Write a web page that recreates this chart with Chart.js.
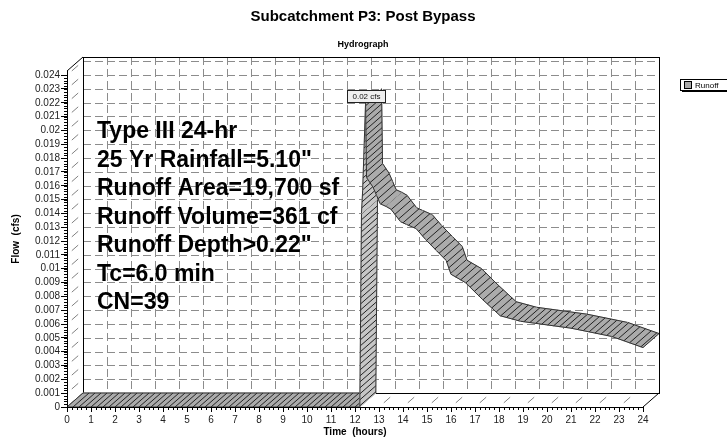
<!DOCTYPE html>
<html>
<head>
<meta charset="utf-8">
<title>Subcatchment P3: Post Bypass</title>
<script src="https://cdn.jsdelivr.net/npm/chart.js@4.4.0/dist/chart.umd.min.js"></script>
<style>
html, body { margin: 0; padding: 0; background: #fff; }
canvas { display: block; }
</style>
</head>
<body>
<canvas id="hydroChart" width="727" height="438"></canvas>
<script>
// hydrograph ordinates: time (hours) and runoff (cfs)
var hours  = [0, 12.20, 12.27, 12.32, 12.44, 12.48, 12.75, 12.90, 13.05, 13.30, 13.50, 13.90, 14.15, 14.55, 14.95, 15.40, 15.80, 16.00, 16.60, 17.30, 18.05, 18.90, 21.00, 22.70, 24.00];
var runoff = [0, 0, 0.0140, 0.0157, 0.0220, 0.0166, 0.0159, 0.0153, 0.0147, 0.0145, 0.0143, 0.0134, 0.0132, 0.0129, 0.0121, 0.0113, 0.0106, 0.0096, 0.0090, 0.0078, 0.0066, 0.0062, 0.0057, 0.0051, 0.0043];

var xTicks = [0, 1, 2, 3, 4, 5, 6, 7, 8, 9, 10, 11, 12, 13, 14, 15, 16, 17, 18, 19, 20, 21, 22, 23, 24];
var yTicks = ['0', '0.001', '0.002', '0.003', '0.004', '0.005', '0.006', '0.007', '0.008', '0.009', '0.01', '0.011', '0.012',
              '0.013', '0.014', '0.015', '0.016', '0.017', '0.018', '0.019', '0.02', '0.021', '0.022', '0.023', '0.024'];
var yMax = 0.0243;

var seriesName = 'Runoff';
var notes = ['Type III 24-hr', '25 Yr Rainfall=5.10"', 'Runoff Area=19,700 sf', 'Runoff Volume=361 cf',
             'Runoff Depth>0.22"', 'Tc=6.0 min', 'CN=39'];

var FONT = '"Liberation Sans", Arial, Helvetica, sans-serif';
var depth = { x: 16, y: -14 };   // shift from the front plane to the back wall
var faceTop = '#ababab', faceUnder = '#c6c6c6';

function seg(ctx, x1, y1, x2, y2) {
    ctx.beginPath();
    ctx.moveTo(x1, y1);
    ctx.lineTo(x2, y2);
    ctx.stroke();
}

var hydro3d = {
    id: 'hydro3d',
    beforeDatasetsDraw: function(chart) {
        var ctx = chart.ctx, a = chart.chartArea;
        var xs = chart.scales.x, ys = chart.scales.y;
        var bl = a.left + depth.x, br = a.right + depth.x;
        var bt = a.top + depth.y, bb = a.bottom + depth.y;
        ctx.save();
        ctx.lineWidth = 1;

        // dashed grid on the back wall
        ctx.strokeStyle = '#8c8c8c';
        ctx.setLineDash([8, 4]);
        xTicks.forEach(function(h, i) {
            if (i === 0 || i === xTicks.length - 1) return;
            var px = Math.round(xs.getPixelForValue(h) + depth.x) + 0.5;
            seg(ctx, px, bt, px, bb);
        });
        yTicks.forEach(function(t, i) {
            if (i === 0) return;
            var py = Math.round(ys.getPixelForValue(parseFloat(t)) + depth.y) + 0.5;
            seg(ctx, bl, py, br, py);
        });
        ctx.setLineDash([]);

        // short depth marks on the floor and the side wall
        ctx.strokeStyle = '#808080';
        xTicks.forEach(function(h, i) {
            if (i === 0 || i === xTicks.length - 1) return;
            var px = xs.getPixelForValue(h);
            seg(ctx, px + depth.x * 0.3, a.bottom + depth.y * 0.3, px + depth.x * 0.7, a.bottom + depth.y * 0.7);
        });
        yTicks.forEach(function(t, i) {
            if (i === 0) return;
            var py = ys.getPixelForValue(parseFloat(t));
            seg(ctx, a.left + depth.x * 0.3, py + depth.y * 0.3, a.left + depth.x * 0.7, py + depth.y * 0.7);
        });

        // box edges
        ctx.strokeStyle = '#000';
        ctx.strokeRect(Math.round(bl) + 0.5, Math.round(bt) + 0.5, Math.round(br - bl), Math.round(bb - bt));
        seg(ctx, a.left, a.top, bl, bt);
        seg(ctx, a.left, a.bottom, bl, bb);
        seg(ctx, a.right, a.bottom, br, bb);
        ctx.restore();
    },
    afterDatasetsDraw: function(chart) {
        var ctx = chart.ctx, a = chart.chartArea;
        var xs = chart.scales.x, ys = chart.scales.y;
        var pts = chart.getDatasetMeta(0).data;
        ctx.save();
        ctx.lineWidth = 1;

        // ribbon: every segment extruded back to the wall, painted left to right
        var step = 6, carry = 0;
        for (var i = 0; i < pts.length - 1; i++) {
            var p0 = pts[i], p1 = pts[i + 1];
            var dx = p1.x - p0.x, dy = p1.y - p0.y;
            var cross = dx * depth.y - dy * depth.x;
            ctx.fillStyle = cross < 0 ? faceTop : faceUnder;
            ctx.strokeStyle = ctx.fillStyle;
            ctx.beginPath();
            ctx.moveTo(p0.x, p0.y);
            ctx.lineTo(p1.x, p1.y);
            ctx.lineTo(p1.x + depth.x, p1.y + depth.y);
            ctx.lineTo(p0.x + depth.x, p0.y + depth.y);
            ctx.closePath();
            ctx.fill();
            ctx.stroke();

            var len = Math.sqrt(dx * dx + dy * dy);
            ctx.strokeStyle = '#222';
            var d = step - carry;
            while (d < len) {
                var t = d / len;
                var hx = p0.x + dx * t, hy = p0.y + dy * t;
                seg(ctx, hx, hy, hx + depth.x, hy + depth.y);
                d += step;
            }
            carry = len - (d - step);

            ctx.strokeStyle = '#333';
            seg(ctx, p0.x, p0.y, p1.x, p1.y);
            seg(ctx, p0.x + depth.x, p0.y + depth.y, p1.x + depth.x, p1.y + depth.y);
        }
        var first = pts[0], last = pts[pts.length - 1];
        seg(ctx, first.x, first.y, first.x + depth.x, first.y + depth.y);
        seg(ctx, last.x, last.y, last.x + depth.x, last.y + depth.y);

        // front axes with minor ticks
        ctx.strokeStyle = '#000';
        seg(ctx, a.left + 0.5, a.top, a.left + 0.5, a.bottom);
        seg(ctx, a.left, a.bottom + 0.5, a.right, a.bottom + 0.5);
        for (var k = 0; k <= 120; k++) {
            var my = Math.round(ys.getPixelForValue(k * 0.0002)) + 0.5;
            seg(ctx, a.left - 3, my, a.left, my);
            var mx = Math.round(xs.getPixelForValue(k * 0.2)) + 0.5;
            seg(ctx, mx, a.bottom, mx, a.bottom + 3);
        }

        // peak flow tag
        var pk = 0;
        runoff.forEach(function(v, j) { if (v > runoff[pk]) pk = j; });
        var tag = runoff[pk].toFixed(2) + ' cfs';
        ctx.font = '8px ' + FONT;
        var w = Math.round(ctx.measureText(tag).width) + 10, h = 12;
        var bx = Math.round(pts[pk].x - w / 2) + 0.5, by = Math.round(pts[pk].y - h - 1) + 0.5;
        ctx.fillStyle = '#efefef';
        ctx.fillRect(bx, by, w, h);
        ctx.strokeStyle = '#222';
        ctx.strokeRect(bx, by, w, h);
        ctx.fillStyle = '#111';
        ctx.textAlign = 'center';
        ctx.textBaseline = 'middle';
        ctx.fillText(tag, bx + w / 2, by + h / 2 + 0.5);
        ctx.restore();
    },
    afterDraw: function(chart) {
        var ctx = chart.ctx;
        ctx.save();
        ctx.fillStyle = '#000';
        ctx.textAlign = 'center';
        ctx.textBaseline = 'middle';
        ctx.font = 'bold 15px ' + FONT;
        ctx.fillText('Subcatchment P3: Post Bypass', 363, 17);
        ctx.font = 'bold 9px ' + FONT;
        ctx.fillText('Hydrograph', 363, 45);

        ctx.textAlign = 'left';
        ctx.font = 'bold 23px ' + FONT;
        notes.forEach(function(line, i) {
            ctx.fillText(line, 97, 132 + i * 28.5);
        });

        // legend
        ctx.fillStyle = '#000';
        ctx.fillRect(682, 81, 50, 11);
        ctx.fillStyle = '#fff';
        ctx.fillRect(680, 79, 50, 11);
        ctx.strokeStyle = '#000';
        ctx.lineWidth = 1;
        ctx.strokeRect(680.5, 79.5, 50, 11);
        ctx.fillStyle = faceTop;
        ctx.fillRect(684, 81, 7, 7);
        ctx.strokeRect(684.5, 81.5, 7, 7);
        ctx.fillStyle = '#000';
        ctx.font = '8px ' + FONT;
        ctx.fillText(seriesName, 695, 85.5);
        ctx.restore();
    }
};

var points = hours.map(function(h, i) { return { x: h, y: runoff[i] }; });

var ctx = document.getElementById('hydroChart').getContext('2d');
var hydroChart = new Chart(ctx, {
    type: 'line',
    data: {
        datasets: [{
            label: seriesName,
            data: points,
            showLine: false,
            pointRadius: 0,
            borderWidth: 0
        }]
    },
    options: {
        responsive: false,
        animation: false,
        devicePixelRatio: 1,
        events: [],
        layout: { padding: { top: 71, right: 84, left: 0, bottom: 0 } },
        plugins: {
            legend: { display: false },
            tooltip: { enabled: false }
        },
        scales: {
            x: {
                type: 'linear',
                min: 0,
                max: 24,
                afterBuildTicks: function(scale) {
                    scale.ticks = xTicks.map(function(v) { return { value: v }; });
                },
                afterFit: function(scale) { scale.height = 31; },
                grid: { drawOnChartArea: false, tickLength: 5, tickColor: '#000', color: '#000' },
                border: { display: true, color: '#000' },
                ticks: {
                    autoSkip: false,
                    maxRotation: 0,
                    padding: 2,
                    color: '#222',
                    font: { family: FONT, size: 10 },
                    callback: function(v, i) { return String(xTicks[i]); }
                },
                title: {
                    display: true,
                    text: 'Time  (hours)',
                    color: '#000',
                    font: { family: FONT, size: 10, weight: 'bold' },
                    padding: { top: 0, bottom: 0 }
                }
            },
            y: {
                type: 'linear',
                min: 0,
                max: yMax,
                afterBuildTicks: function(scale) {
                    scale.ticks = yTicks.map(function(v) { return { value: parseFloat(v) }; });
                },
                afterFit: function(scale) { scale.width = 67; },
                grid: { drawOnChartArea: false, tickLength: 6, tickColor: '#000', color: '#000' },
                border: { display: true, color: '#000' },
                ticks: {
                    autoSkip: false,
                    padding: 1,
                    color: '#222',
                    font: { family: FONT, size: 10 },
                    callback: function(v, i) { return yTicks[i]; }
                },
                title: {
                    display: true,
                    text: 'Flow  (cfs)',
                    color: '#000',
                    font: { family: FONT, size: 10, weight: 'bold' },
                    padding: { top: 10 }
                }
            }
        }
    },
    plugins: [hydro3d]
});
</script>
</body>
</html>
